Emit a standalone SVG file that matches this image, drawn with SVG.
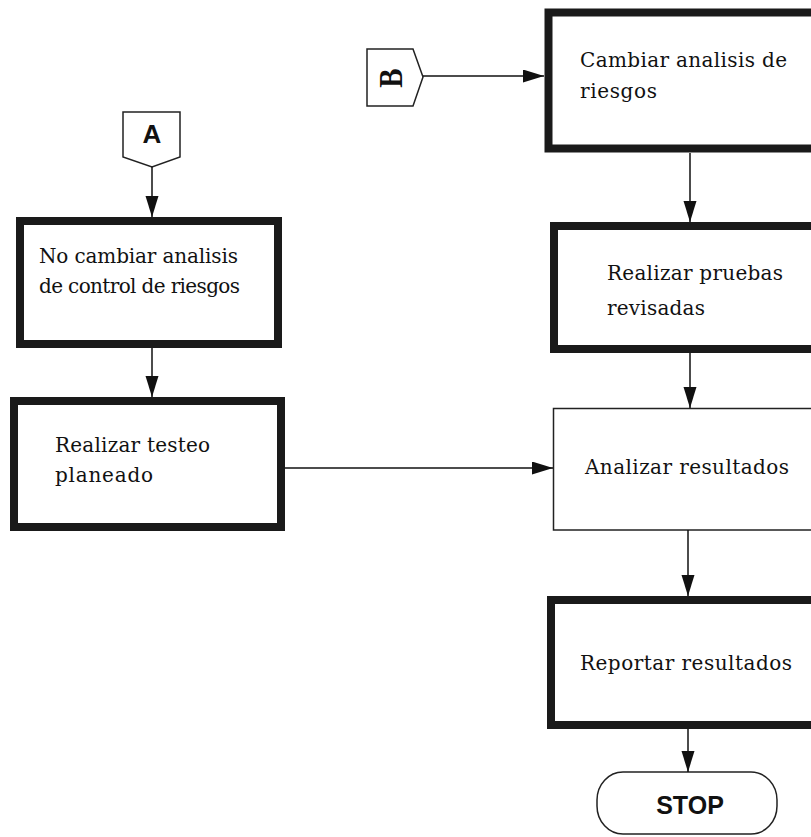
<svg xmlns="http://www.w3.org/2000/svg" width="811" height="837" viewBox="0 0 811 837">
<style>
.thick{fill:#fff;stroke:#1a1a1a;stroke-width:8}
.thin{fill:#fff;stroke:#222;stroke-width:1.5}
.lbl{font-family:"DejaVu Serif","Liberation Serif",serif;font-size:20px;fill:#111}
.sans{font-family:"Liberation Sans",Arial,sans-serif;font-weight:bold;fill:#111}
.conn{fill:none;stroke:#111;stroke-width:1.5}
</style>
<defs>
<marker id="arr" markerUnits="userSpaceOnUse" markerWidth="22" markerHeight="14" refX="21" refY="6.5" orient="auto">
<path d="M0,0 L21,6.5 L0,13 z" fill="#111"/>
</marker>
</defs>
<rect width="811" height="837" fill="#fff"/>

<g id="connA">
<polygon class="thin" points="123,112 180,112 180,157 152,167 123,157"/>
<text class="sans" x="152" y="143" font-size="26" text-anchor="middle">A</text>
</g>

<g id="connB">
<polygon class="thin" points="367,49 413,49 423,77 413,106 367,106"/>
<text class="sans" style="font-family:'Liberation Serif',serif" font-size="34" text-anchor="middle" transform="translate(390,78) rotate(-90) scale(0.85,1)" y="12">B</text>
</g>

<g id="noCambiar">
<rect class="thick" x="20" y="221" width="258" height="123"/>
<text class="lbl" x="39" y="263" textLength="199">No cambiar analisis</text>
<text class="lbl" x="39" y="293" textLength="201">de control de riesgos</text>
</g>

<g id="testeo">
<rect class="thick" x="14" y="401" width="267" height="126"/>
<text class="lbl" x="55" y="452" textLength="155">Realizar testeo</text>
<text class="lbl" x="55" y="482" textLength="98">planeado</text>
</g>

<g id="cambiar">
<rect class="thick" x="548.5" y="12.5" width="300" height="136" stroke-width="9"/>
<text class="lbl" x="580" y="67" textLength="207">Cambiar analisis de</text>
<text class="lbl" x="580" y="98" textLength="77">riesgos</text>
</g>

<g id="pruebas">
<rect class="thick" x="554" y="226" width="300" height="123"/>
<text class="lbl" x="607" y="280" textLength="176">Realizar pruebas</text>
<text class="lbl" x="607" y="315" textLength="98">revisadas</text>
</g>

<g id="analizar">
<rect class="thin" x="553.5" y="408.5" width="300" height="121.5"/>
<text class="lbl" x="585" y="474" textLength="204">Analizar resultados</text>
</g>

<g id="reportar">
<rect class="thick" x="551" y="600" width="300" height="125"/>
<text class="lbl" x="580" y="670" textLength="212">Reportar resultados</text>
</g>

<g id="stop">
<rect class="thin" x="597" y="772" width="180" height="62" rx="26" ry="28"/>
<text class="sans" x="690" y="814" font-size="25" text-anchor="middle">STOP</text>
</g>

<g id="connectors">
<line class="conn" x1="152" y1="167" x2="152" y2="217" marker-end="url(#arr)"/>
<line class="conn" x1="152" y1="348" x2="152" y2="397" marker-end="url(#arr)"/>
<line class="conn" x1="285" y1="468" x2="553" y2="468" marker-end="url(#arr)"/>
<line class="conn" x1="423" y1="76" x2="544" y2="76" marker-end="url(#arr)"/>
<line class="conn" x1="690" y1="153" x2="690" y2="222" marker-end="url(#arr)"/>
<line class="conn" x1="690" y1="353" x2="690" y2="408" marker-end="url(#arr)"/>
<line class="conn" x1="688" y1="530" x2="688" y2="596" marker-end="url(#arr)"/>
<line class="conn" x1="688" y1="729" x2="688" y2="772" marker-end="url(#arr)"/>
</g>
</svg>
